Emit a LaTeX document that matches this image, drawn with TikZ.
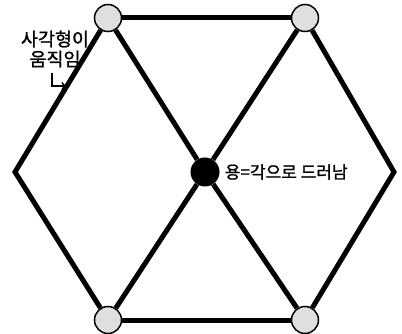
\documentclass[tikz,border=0pt]{standalone}
\usepackage{fontspec}
\newfontfamily\kor[FakeBold=1.2]{Noto Sans CJK KR}
\usetikzlibrary{positioning,arrows}
\tikzset{
  >=stealth',
  joint/.style={draw, circle, line width=1.5pt, fill=gray!25, minimum size=27pt, inner sep=0pt},
  hub/.style={circle, fill=black, minimum size=29pt, inner sep=0pt},
  bar/.style={line width=5pt, line join=miter},
  note/.style={font=\kor\fontsize{17}{19}\selectfont, inner sep=0pt, align=center},
}

\begin{document}
\begin{tikzpicture}[x=1pt, y=-1pt]
    \useasboundingbox (0,0) rectangle (402,334);
    \node[joint] (tl) at (108,18) {};
    \node[joint] (tr) at (305,18) {};
    \node[joint] (bl) at (108,320) {};
    \node[joint] (br) at (305,320) {};
    \node[hub] (c) at (205,172) {};
    \coordinate (lft) at (15,172);
    \coordinate (rgt) at (394,172);
    \draw[bar] (tl) -- (lft) -- (bl);
    \draw[bar] (tr) -- (rgt) -- (br);
    \draw[bar] (tl) -- (tr);
    \draw[bar] (bl) -- (br);
    \draw[bar] (tl) -- (c) -- (br);
    \draw[bar] (tr) -- (c) -- (bl);
    \node[note, font=\kor\fontsize{18.5}{20}\selectfont] (mv) at (55,49) {사각형이\\움직임};
    \node[note, right=5pt of c] (ang) {용=각으로 드러남};
    \coordinate (hk) at (52,73);
    \coordinate (hkend) at (66,86);
    \draw[-to, line width=1.8pt] (hk) |- (hkend);
  \end{tikzpicture}
\end{document}
